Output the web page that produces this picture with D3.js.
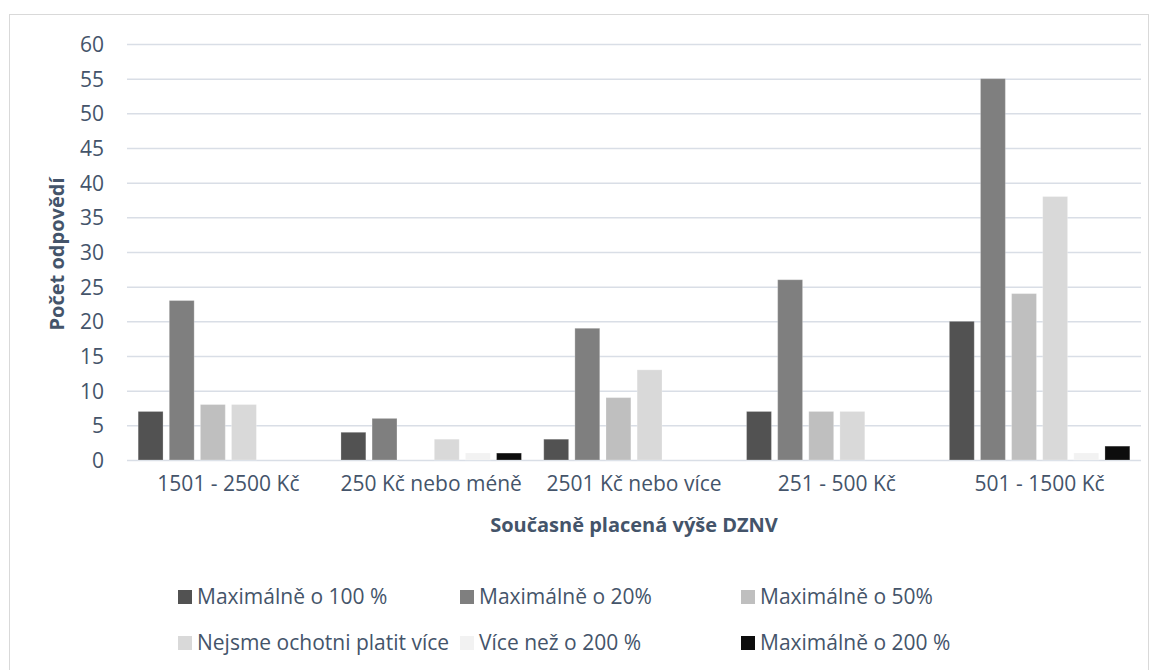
<!DOCTYPE html>
<html>
<head>
<meta charset="utf-8">
<script src="https://cdn.jsdelivr.net/npm/d3@7"></script>
<style>
  body { margin:0; background:#fff; }
  svg text { font-family:"Open Sans", sans-serif; fill:#44546a; }
</style>
</head>
<body>
<svg id="chart" width="1157" height="670"></svg>
<script>
// categories (x axis)
const categories=['1501 - 2500 Kč','250 Kč nebo méně','2501 Kč nebo více','251 - 500 Kč','501 - 1500 Kč'];
// series names, in legend order
const seriesNames=['Maximálně o 100 %','Maximálně o 20%','Maximálně o 50%','Nejsme ochotni platit více','Více než o 200 %','Maximálně o 200 %'];
const seriesColors=['#525252','#7f7f7f','#bfbfbf','#d9d9d9','#f2f2f2','#0d0d0d'];
// values per series, one per category
const max100=   [7, 4, 3, 7, 20];
const max20=    [23, 6, 19, 26, 55];
const max50=    [8, 0, 9, 7, 24];
const nejsme=   [8, 3, 13, 7, 38];
const vice200=  [0, 1, 0, 0, 1];
const max200=   [0, 1, 0, 0, 2];
const yTicks=[0,5,10,15,20,25,30,35,40,45,50,55,60];

const seriesValues=[max100,max20,max50,nejsme,vice200,max200];

const svg=d3.select('#chart');

// outer chart frame
svg.append('rect')
   .attr('x',9.5).attr('y',14.5)
   .attr('width',1139).attr('height',700)
   .attr('fill','none').attr('stroke','#d9d9d9');

const plot={left:127, right:1141, top:44, bottom:460};

const x0=d3.scaleBand().domain(categories)
     .range([plot.left,plot.right]).paddingInner(0.11).paddingOuter(0.055);
const x1=d3.scaleBand().domain(d3.range(seriesNames.length))
     .range([0,x0.bandwidth()]).paddingInner(0.2);
const y=d3.scaleLinear().domain([0,60]).range([plot.bottom,plot.top]);

// gridlines
svg.append('g').selectAll('line').data(yTicks)
   .join('line')
   .attr('x1',plot.left).attr('x2',plot.right)
   .attr('y1',d=>y(d)+0.5).attr('y2',d=>y(d)+0.5)
   .attr('stroke','#d9dee6').attr('stroke-width',1.5);

// y axis labels
const yAxis=d3.axisLeft(y).tickValues(yTicks).tickSize(0).tickPadding(0);
const ya=svg.append('g').attr('transform','translate(104,0)').call(yAxis);
ya.select('.domain').remove();
ya.selectAll('text').attr('font-size',21).attr('font-family','"Open Sans", sans-serif')
  .attr('fill','#44546a').attr('dy','0.35em');

// bars
const groups=svg.append('g').selectAll('g').data(categories)
   .join('g')
   .attr('transform',d=>'translate('+x0(d)+',0)');

groups.selectAll('rect')
   .data((c,ci)=>seriesValues.map((vals,si)=>({si:si,v:vals[ci]})).filter(d=>d.v>0))
   .join('rect')
   .attr('x',d=>x1(d.si))
   .attr('y',d=>y(d.v))
   .attr('width',x1.bandwidth())
   .attr('height',d=>y(0)-y(d.v))
   .attr('fill',d=>seriesColors[d.si])
   .attr('stroke','#ffffff').attr('stroke-opacity',0.25).attr('stroke-width',1);

// x axis labels
const xAxis=d3.axisBottom(x0).tickSize(0).tickPadding(0);
const xa=svg.append('g').attr('transform','translate(0,476)').call(xAxis);
xa.select('.domain').remove();
xa.selectAll('text').attr('font-size',21).attr('font-family','"Open Sans", sans-serif')
  .attr('fill','#44546a').attr('dy','0.71em');

// axis titles
svg.append('text')
   .attr('x',(plot.left+plot.right)/2).attr('y',532)
   .attr('text-anchor','middle').attr('font-size',20).attr('font-weight','bold')
   .text('Současně placená výše DZNV');

svg.append('text')
   .attr('transform','translate(64,254) rotate(-90)')
   .attr('text-anchor','middle').attr('font-size',20).attr('font-weight','bold')
   .text('Počet odpovědí');

// legend
const legendCols=[178,460,741];
const legendRows=[597,643];
const legend=svg.append('g').selectAll('g').data(seriesNames)
   .join('g')
   .attr('transform',(d,i)=>'translate('+legendCols[i%3]+','+legendRows[Math.floor(i/3)]+')');
legend.append('rect')
   .attr('x',0).attr('y',-7).attr('width',14).attr('height',14)
   .attr('fill',(d,i)=>seriesColors[i]);
legend.append('text')
   .attr('x',19).attr('y',0).attr('dy','0.35em')
   .attr('font-size',21)
   .text(d=>d);
</script>
</body>
</html>
